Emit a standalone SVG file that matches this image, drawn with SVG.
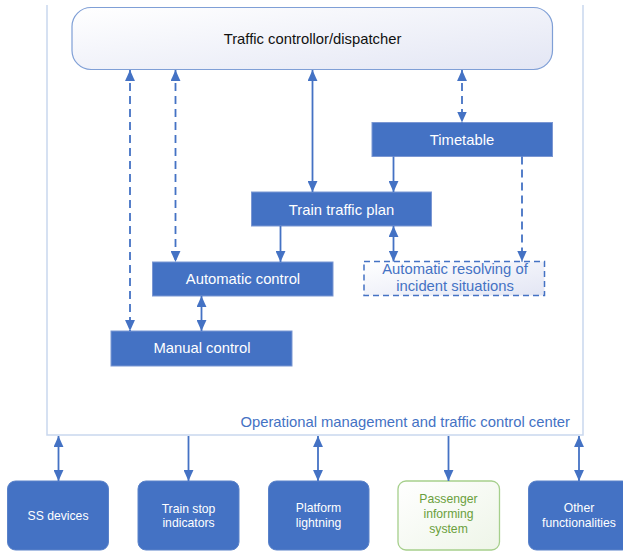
<svg xmlns="http://www.w3.org/2000/svg" width="623" height="552" viewBox="0 0 623 552">
<style>
  .lbl{font-family:"Liberation Sans",Arial,sans-serif;font-size:14.8px;text-anchor:middle}
  .w{fill:#ffffff}
  .sm{font-family:"Liberation Sans",Arial,sans-serif;font-size:12.2px;text-anchor:middle;fill:#ffffff}
  .blue{fill:#4472c4;stroke:#7b97d3;stroke-width:1}
  .bot{fill:#4472c4;stroke:#5a82c9;stroke-width:1}
  .c{stroke:#4472c4;stroke-width:1.8;fill:none}
  .d{stroke-dasharray:8 5}
</style>
<defs>
  <linearGradient id="gLav" x1="0" y1="0" x2="1" y2="1">
    <stop offset="0" stop-color="#ffffff"/>
    <stop offset="1" stop-color="#e3e6f4"/>
  </linearGradient>
  <linearGradient id="gGreen" x1="0" y1="0" x2="1" y2="1">
    <stop offset="0" stop-color="#ffffff"/>
    <stop offset="1" stop-color="#eef5e8"/>
  </linearGradient>
  <marker id="ah" markerUnits="userSpaceOnUse" markerWidth="11" markerHeight="10" refX="10" refY="4.5" orient="auto-start-reverse" viewBox="0 0 10 9">
    <path d="M0,0 L10,4.5 L0,9 z" fill="#4472c4"/>
  </marker>
</defs>

<g id="container">
  <path d="M47,5 V435 H583 V5" fill="none" stroke="#c9d7ee" stroke-width="1.5"/>
  <text x="570" y="427" font-family="Liberation Sans, Arial, sans-serif" font-size="14.8" fill="#4472c4" text-anchor="end">Operational management and traffic control center</text>
</g>

<g id="dispatcher">
  <rect x="72" y="7.5" width="480.5" height="62" rx="19" fill="url(#gLav)" stroke="#7f9fd6" stroke-width="1.2"/>
  <text class="lbl" x="312.5" y="44" font-size="15.2" fill="#111111">Traffic controllor/dispatcher</text>
</g>

<g id="timetable">
  <rect class="blue" x="372" y="122.5" width="180.5" height="34"/>
  <text class="lbl w" x="462" y="144.5">Timetable</text>
</g>

<g id="train-traffic-plan">
  <rect class="blue" x="251.5" y="192" width="180" height="34"/>
  <text class="lbl w" x="341.5" y="214.5">Train traffic plan</text>
</g>

<g id="automatic-control">
  <rect class="blue" x="152.5" y="262" width="180.5" height="34"/>
  <text class="lbl w" x="243" y="283.5">Automatic control</text>
</g>

<g id="automatic-resolving">
  <rect x="364" y="261.5" width="180.5" height="34" fill="url(#gLav)" stroke="#4472c4" stroke-width="1.5" stroke-dasharray="6 4"/>
  <text class="lbl" x="455" y="274" fill="#4472c4">Automatic resolving of</text>
  <text class="lbl" x="455" y="291" fill="#4472c4">incident situations</text>
</g>

<g id="manual-control">
  <rect class="blue" x="111" y="331" width="181" height="35"/>
  <text class="lbl w" x="202" y="353">Manual control</text>
</g>

<g id="ss-devices">
  <rect class="bot" x="7.5" y="481" width="101" height="69" rx="8"/>
  <text class="sm" x="58" y="519.5">SS devices</text>
</g>

<g id="train-stop-indicators">
  <rect class="bot" x="138" y="481" width="101" height="69" rx="8"/>
  <text class="sm" x="188.5" y="512.5">Train stop</text>
  <text class="sm" x="188.5" y="527">indicators</text>
</g>

<g id="platform-lightning">
  <rect class="bot" x="268.5" y="481" width="100.5" height="69" rx="8"/>
  <text class="sm" x="318.5" y="512">Platform</text>
  <text class="sm" x="318.5" y="526.5">lightning</text>
</g>

<g id="passenger-informing-system">
  <rect x="398" y="481" width="101.5" height="69" rx="8" fill="url(#gGreen)" stroke="#a6cf8c" stroke-width="1.3"/>
  <text class="sm" x="448.5" y="503" fill="#6a9f3c" style="fill:#6a9f3c">Passenger</text>
  <text class="sm" x="448.5" y="518" style="fill:#6a9f3c">informing</text>
  <text class="sm" x="448.5" y="533" style="fill:#6a9f3c">system</text>
</g>

<g id="other-functionalities">
  <rect class="bot" x="528.5" y="481" width="102" height="69" rx="8"/>
  <text class="sm" x="579" y="512">Other</text>
  <text class="sm" x="579" y="527">functionalities</text>
</g>

<g id="connectors">
  <line class="c d" x1="130" y1="70" x2="130" y2="331" marker-start="url(#ah)" marker-end="url(#ah)"/>
  <line class="c d" x1="175.5" y1="70" x2="175.5" y2="262" marker-start="url(#ah)" marker-end="url(#ah)"/>
  <line class="c" x1="312.5" y1="70" x2="312.5" y2="192" marker-start="url(#ah)" marker-end="url(#ah)"/>
  <line class="c d" x1="462" y1="70" x2="462" y2="122.5" marker-start="url(#ah)" marker-end="url(#ah)"/>
  <line class="c" x1="393.5" y1="156.5" x2="393.5" y2="192" marker-end="url(#ah)"/>
  <line class="c d" x1="522" y1="156.5" x2="522" y2="261.5" marker-end="url(#ah)"/>
  <line class="c" x1="280.5" y1="226" x2="280.5" y2="262" marker-end="url(#ah)"/>
  <line class="c" x1="393.5" y1="226" x2="393.5" y2="261.5" marker-start="url(#ah)" marker-end="url(#ah)"/>
  <line class="c" x1="201.5" y1="296" x2="201.5" y2="331" marker-start="url(#ah)" marker-end="url(#ah)"/>
  <line class="c" x1="58.5" y1="436" x2="58.5" y2="481" marker-start="url(#ah)" marker-end="url(#ah)"/>
  <line class="c" x1="188.5" y1="436" x2="188.5" y2="481" marker-end="url(#ah)"/>
  <line class="c" x1="318" y1="436" x2="318" y2="481" marker-start="url(#ah)" marker-end="url(#ah)"/>
  <line class="c" x1="448.5" y1="436" x2="448.5" y2="481" marker-end="url(#ah)"/>
  <line class="c" x1="579" y1="436" x2="579" y2="481" marker-start="url(#ah)" marker-end="url(#ah)"/>
</g>
</svg>
